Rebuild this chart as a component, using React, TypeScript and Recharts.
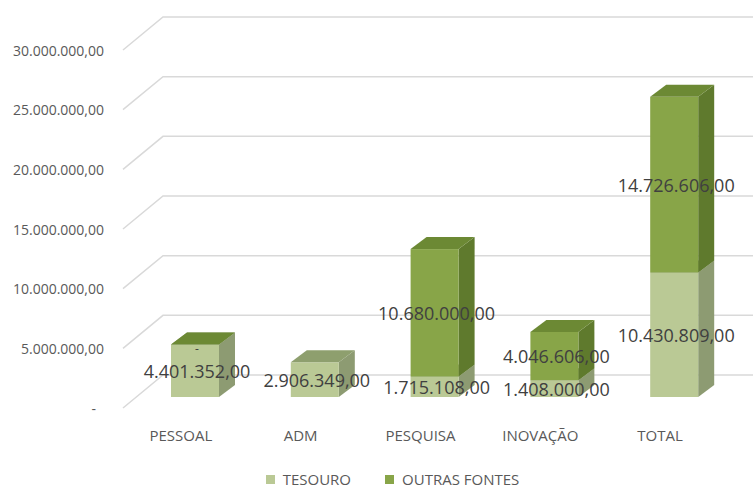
import React from "react";
import { BarChart, Bar, XAxis, YAxis, CartesianGrid, LabelList, Legend } from "recharts";

const categories = ["PESSOAL", "ADM", "PESQUISA", "INOVAÇÃO", "TOTAL"];
const tesouro = [4401352, 2906349, 1715108, 1408000, 10430809];
const outrasFontes = [0, null, 10680000, 4046606, 14726606];
const yTicks = [0, 5000000, 10000000, 15000000, 20000000, 25000000, 30000000];

const data = categories.map((name, i) => ({
  name,
  tesouro: tesouro[i],
  outras: outrasFontes[i],
}));

const FONT = "'Open Sans', sans-serif";
const DX = 16;
const DY = -12;

const formatBR = (v: number) => {
  if (!v) return "-";
  const [int, dec] = v.toFixed(2).split(".");
  return int.replace(/\B(?=(\d{3})+(?!\d))/g, ".") + "," + dec;
};

const colors = {
  tesouro: { front: "#bac995", side: "#8d9b72", top: "#8e9f6e" },
  outras: { front: "#88a548", side: "#5f7a2d", top: "#6c8934" },
};

// 3D-looking box: front face, right side and top
const box = (key: string, c: { front: string; side: string; top: string }) => (props: any) => {
  const { x, y, width, height, payload } = props;
  if (payload && payload[key] == null) return null;
  if (x == null || y == null || height == null || isNaN(y)) return null;
  const h = Math.max(0, height);
  return (
    <g>
      <path
        d={`M${x + width},${y} L${x + width + DX},${y + DY} L${x + width + DX},${y + h + DY} L${x + width},${y + h} Z`}
        fill={c.side}
      />
      <rect x={x} y={y} width={width} height={h} fill={c.front} />
      <path
        d={`M${x},${y} L${x + DX},${y + DY} L${x + width + DX},${y + DY} L${x + width},${y} Z`}
        fill={c.top}
      />
    </g>
  );
};

const gridLine = (props: any) => {
  const { y1, index } = props;
  const yb = y1 - 22;
  return (
    <path
      key={`g${index}`}
      d={`M123,${y1 + 11} L163,${yb} L753,${yb}`}
      stroke="#d9d9d9"
      strokeWidth={1.5}
      fill="none"
    />
  );
};

const yTick = (props: any) => {
  const { y, payload } = props;
  const label = payload.value === 0 ? "-" : formatBR(payload.value);
  return (
    <text
      x={payload.value === 0 ? 96 : 104}
      y={y + 11}
      textAnchor="end"
      dominantBaseline="central"
      fontFamily={FONT}
      fontSize={14}
      fill="#595959"
    >
      {label}
    </text>
  );
};

const xTick = (props: any) => {
  const { x, payload } = props;
  return (
    <text
      x={x - 14}
      y={435}
      textAnchor="middle"
      dominantBaseline="central"
      fontFamily={FONT}
      fontSize={15}
      fill="#595959"
    >
      {payload.value}
    </text>
  );
};

const barLabel = (props: any) => {
  const { x, y, width, height, value } = props;
  if (value == null) return null;
  const cy = value === 0 ? y + 4 : y + height / 2;
  return (
    <text
      x={x + width / 2 + 2}
      y={cy}
      textAnchor="middle"
      dominantBaseline="central"
      fontFamily={FONT}
      fontSize={value === 0 ? 12 : 18}
      fill="#404040"
    >
      {formatBR(value)}
    </text>
  );
};

const legendContent = () => (
  <div
    style={{
      display: "flex",
      justifyContent: "center",
      gap: 34,
      marginLeft: 32,
      fontFamily: FONT,
      fontSize: 15,
      lineHeight: "15px",
      color: "#595959",
    }}
  >
    <span style={{ display: "flex", alignItems: "center", gap: 8 }}>
      <span style={{ width: 9, height: 9, background: colors.tesouro.front }} />
      TESOURO
    </span>
    <span style={{ display: "flex", alignItems: "center", gap: 8 }}>
      <span style={{ width: 9, height: 9, background: colors.outras.front }} />
      OUTRAS FONTES
    </span>
  </div>
);

export default function App() {
  return (
    <div style={{ position: "absolute", left: 0, top: 0, background: "#fff" }}>
      <BarChart
        width={753}
        height={488}
        data={data}
        margin={{ top: 39, right: 19, left: 0, bottom: 61 }}
      >
        <CartesianGrid vertical={false} horizontal={gridLine} />
        <XAxis dataKey="name" height={30} axisLine={false} tickLine={false} tick={xTick} />
        <YAxis
          width={135}
          domain={[0, 30000000]}
          ticks={yTicks}
          axisLine={false}
          tickLine={false}
          tick={yTick}
          interval={0}
        />
        <Legend
          content={legendContent}
          verticalAlign="middle"
          wrapperStyle={{ left: 0, top: 472, width: 753 }}
        />
        <Bar
          dataKey="tesouro"
          stackId="a"
          barSize={48}
          shape={box("tesouro", colors.tesouro)}
          isAnimationActive={false}
        >
          <LabelList dataKey="tesouro" content={barLabel} />
        </Bar>
        <Bar
          dataKey="outras"
          stackId="a"
          barSize={48}
          shape={box("outras", colors.outras)}
          isAnimationActive={false}
        >
          <LabelList dataKey="outras" content={barLabel} />
        </Bar>
      </BarChart>
    </div>
  );
}
